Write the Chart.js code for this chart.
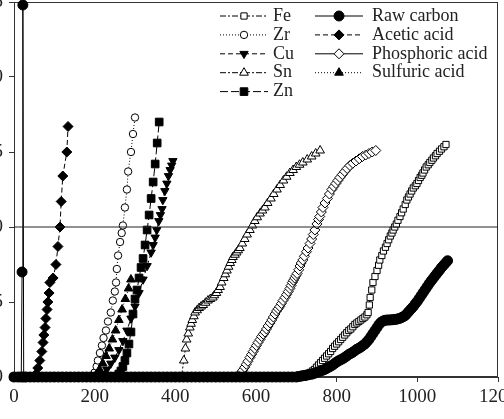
<!DOCTYPE html>
<html><head><meta charset="utf-8">
<script src="https://cdn.jsdelivr.net/npm/chart.js@4/dist/chart.umd.min.js"></script>
<style>
html,body{margin:0;padding:0;background:#fff;overflow:hidden;width:504px;height:419px;}
#wrap{position:absolute;left:-46px;top:-20px;width:580px;height:460px;}
</style></head><body>
<div id="wrap"><canvas id="c" width="580" height="460"></canvas></div>
<script>
const xTicks = [0,200,400,600,800,1000,1200];
const yTicks = [0,0.5,1.0,1.5,2.0,2.5];
const refLine = [[0,1],[1200,1]];

const fe = [[0,0],[10,0],[20,0],[30,0],[40,0],[50,0],[60,0],[70,0],[80,0],[90,0],[100,0],[110,0],[120,0],[130,0],[140,0],[150,0],[160,0],[170,0],[180,0],[190,0],[200,0],[210,0],[220,0],[230,0],[240,0],[250,0],[260,0],[270,0],[280,0],[290,0],[300,0],[310,0],[320,0],[330,0],[340,0],[350,0],[360,0],[370,0],[380,0],[390,0],[400,0],[410,0],[420,0],[430,0],[440,0],[450,0],[460,0],[470,0],[480,0],[490,0],[500,0],[510,0],[520,0],[530,0],[540,0],[550,0],[560,0],[570,0],[580,0],[590,0],[600,0],[610,0],[620,0],[630,0],[640,0],[650,0],[660,0],[670,0],[680,0],[690,0],[700,0],[710,0],
[720,0],[725,0.01],[730,0.02],[735,0.03],[740,0.04],[745,0.05],[750,0.065],[755,0.08],[760,0.095],[765,0.11],[770,0.125],[775,0.14],[780,0.155],[785,0.17],[790,0.19],[795,0.205],[800,0.22],[805,0.235],[810,0.25],[815,0.265],[820,0.28],[825,0.295],[830,0.31],[835,0.32],[840,0.335],[845,0.35],[850,0.36],[855,0.37],[860,0.38],[865,0.39],[870,0.40],[875,0.415],[878,0.43],[881,0.48],[883,0.53],[887,0.58],[890,0.63],[895,0.67],[900,0.71],[904,0.745],[907,0.78],[912,0.81],[916,0.84],[921,0.865],[925,0.89],[929,0.915],[933,0.94],[937,0.96],[940,0.98],[944,1.00],[948,1.02],[952,1.045],[957,1.07],[961,1.095],[965,1.12],[970,1.15],[974,1.18],[978,1.20],[982,1.22],[986,1.24],[990,1.26],[995,1.275],[999,1.29],[1003,1.31],[1007,1.33],[1011,1.345],[1014,1.36],[1018,1.38],[1022,1.40],[1027,1.415],[1031,1.43],[1036,1.445],[1040,1.46],[1045,1.475],[1049,1.49],[1055,1.505],[1060,1.52],[1066,1.535],[1071,1.55]];

const zr = [[0,0],[20,0],[40,0],[60,0],[80,0],[100,0],[120,0],[140,0],[160,0],[180,0],[190,0],
[195,0.01],[200,0.03],[205,0.07],[208,0.11],[213,0.16],[218,0.21],[222,0.26],[228,0.31],[233,0.37],[240,0.43],[245,0.51],[250,0.57],[253,0.63],[255,0.72],[258,0.81],[263,0.90],[267,0.96],[270,1.01],[275,1.13],[280,1.25],[283,1.37],[290,1.50],[295,1.62],[300,1.73]];

const cu = [[0,0],[20,0],[40,0],[60,0],[80,0],[100,0],[120,0],[140,0],[160,0],[180,0],[200,0],[210,0],
[220,0.02],[230,0.05],[240,0.09],[250,0.13],[260,0.18],[270,0.24],[280,0.31],[290,0.39],[300,0.47],[310,0.56],[320,0.65],[330,0.74],[340,0.83],[345,0.88],[350,0.93],[354,0.98],[359,1.04],[363,1.08],[367,1.12],[369,1.18],[374,1.24],[379,1.29],[383,1.34],[387,1.38],[391,1.41],[394,1.44]];

const sn = [[0,0],[20,0],[40,0],[60,0],[80,0],[100,0],[120,0],[140,0],[160,0],[180,0],[200,0],[220,0],[240,0],[260,0],[280,0],[300,0],[320,0],[340,0],[360,0],[380,0],[400,0],[410,0],[415,0],
[421,0.11],[425,0.19],[428,0.25],[432,0.29],[436,0.33],[439,0.355],[442,0.38],[446,0.405],[449,0.43],[454,0.445],[459,0.46],[464,0.47],[469,0.48],[475,0.495],[481,0.51],[487,0.52],[493,0.53],[497,0.545],[502,0.56],[506,0.58],[511,0.60],[515,0.63],[520,0.66],[524,0.685],[528,0.71],[532,0.735],[536,0.76],[540,0.78],[543,0.80],[548,0.815],[552,0.83],[556,0.845],[560,0.86],[566,0.89],[572,0.92],[578,0.95],[585,0.98],[591,1.01],[597,1.04],[603,1.065],[610,1.09],[616,1.11],[622,1.13],[629,1.16],[637,1.19],[644,1.22],[652,1.25],[660,1.28],[668,1.31],[676,1.335],[684,1.36],[692,1.38],[700,1.40],[708,1.415],[716,1.43],[727,1.45],[738,1.47],[748,1.49],[759,1.51]];

const zn = [[0,0],[20,0],[40,0],[60,0],[80,0],[100,0],[120,0],[140,0],[160,0],[180,0],[200,0],[220,0],[240,0],[250,0],[255,0],
[260,0.02],[265,0.04],[270,0.07],[275,0.11],[280,0.16],[285,0.22],[290,0.30],[295,0.42],[300,0.52],[305,0.58],[310,0.66],[315,0.73],[320,0.79],[325,0.88],[330,0.98],[335,1.08],[340,1.19],[345,1.30],[350,1.42],[355,1.56],[360,1.70]];

const rawCarbon = [[0,0],[10,0],[18,0],[20,0.70],[22,2.48],[24,0],[30,0],[40,0],[50,0],[60,0],[70,0],[80,0],[90,0],[100,0],[110,0],[120,0],[130,0],[140,0],[150,0],[160,0],[170,0],[180,0],[190,0],[200,0],[210,0],[220,0],[230,0],[240,0],[250,0],[260,0],[270,0],[280,0],[290,0],[300,0],[310,0],[320,0],[330,0],[340,0],[350,0],[360,0],[370,0],[380,0],[390,0],[400,0],[410,0],[420,0],[430,0],[440,0],[450,0],[460,0],[470,0],[480,0],[490,0],[500,0],[510,0],[520,0],[530,0],[540,0],[550,0],[560,0],[570,0],[580,0],[590,0],[600,0],[610,0],[620,0],[630,0],[640,0],[650,0],[660,0],[670,0],[680,0],[690,0],[700,0],
[705,0.003],[710,0.005],[715,0.008],[720,0.01],[725,0.013],[730,0.015],[735,0.018],[740,0.02],[745,0.025],[750,0.03],[755,0.035],[760,0.04],[765,0.045],[770,0.05],[775,0.057],[780,0.065],[785,0.072],[790,0.08],[795,0.09],[800,0.10],[805,0.108],[810,0.115],[815,0.122],[820,0.13],[825,0.14],[830,0.15],[835,0.157],[840,0.165],[845,0.175],[850,0.185],[855,0.192],[860,0.20],[865,0.21],[870,0.22],[875,0.235],[880,0.25],[885,0.27],[890,0.29],[895,0.31],[900,0.33],[905,0.35],[910,0.365],[915,0.373],[920,0.378],[925,0.38],[930,0.38],[935,0.381],[940,0.382],[945,0.384],[950,0.386],[955,0.39],[960,0.395],[965,0.402],[970,0.41],[975,0.425],[980,0.44],[985,0.455],[990,0.47],[995,0.488],[1000,0.505],[1005,0.525],[1010,0.545],[1015,0.565],[1020,0.585],[1025,0.605],[1030,0.625],[1035,0.643],[1040,0.66],[1045,0.678],[1050,0.695],[1055,0.712],[1060,0.73],[1065,0.745],[1070,0.76],[1075,0.775]];

const aceticAcid = [[0,0],[10,0],[20,0],[30,0],[40,0],[50,0],[55,0.02],[59,0.06],[64,0.11],[69,0.17],[72,0.23],[74,0.28],[77,0.33],[79,0.39],[82,0.45],[84,0.50],[87,0.56],[89,0.63],[97,0.66],[104,0.75],[109,0.87],[114,1.00],[117,1.17],[121,1.34],[131,1.50],[134,1.67]];

const phosphoricAcid = [[0,0],[20,0],[40,0],[60,0],[80,0],[100,0],[120,0],[140,0],[160,0],[180,0],[200,0],[220,0],[240,0],[260,0],[280,0],[300,0],[320,0],[340,0],[360,0],[380,0],[400,0],[420,0],[440,0],[460,0],[480,0],[500,0],[520,0],[540,0],[550,0],
[556,0.01],[562,0.025],[567,0.045],[572,0.065],[576,0.085],[580,0.105],[585,0.13],[589,0.15],[593,0.17],[597,0.19],[601,0.21],[605,0.23],[610,0.25],[614,0.27],[618,0.285],[622,0.30],[626,0.32],[630,0.34],[635,0.36],[639,0.38],[643,0.40],[647,0.42],[651,0.44],[655,0.455],[659,0.47],[663,0.49],[667,0.51],[672,0.53],[676,0.55],[680,0.57],[684,0.59],[687,0.61],[690,0.63],[693,0.645],[696,0.66],[699,0.675],[702,0.69],[706,0.715],[709,0.74],[712,0.76],[716,0.78],[720,0.805],[725,0.835],[729,0.86],[734,0.89],[738,0.92],[742,0.95],[746,0.98],[751,1.02],[755,1.05],[758,1.07],[762,1.10],[766,1.13],[771,1.16],[777,1.19],[782,1.22],[788,1.25],[793,1.27],[798,1.29],[803,1.31],[808,1.33],[814,1.35],[820,1.37],[826,1.39],[833,1.41],[840,1.425],[848,1.44],[856,1.455],[864,1.47],[872,1.48],[880,1.49],[888,1.50],[897,1.51]];

const sulfuricAcid = [[0,0],[20,0],[40,0],[60,0],[80,0],[100,0],[120,0],[140,0],[160,0],[180,0],[200,0],
[205,0.02],[212,0.05],[220,0.09],[228,0.14],[236,0.19],[244,0.25],[252,0.31],[260,0.38],[268,0.45],[276,0.52],[284,0.59],[290,0.65]];

const toPts = arr => arr.map(([x, y]) => ({x, y}));

function series(label, arr, style, radius, filled, dash, rotation) {
  return {
    label, data: toPts(arr), showLine: true, clip: false,
    borderColor: '#000', borderWidth: 1, borderDash: dash,
    pointStyle: style, pointRadius: radius, pointRotation: rotation || 0,
    pointBackgroundColor: filled ? '#000' : '#fff', pointBorderColor: '#000', pointBorderWidth: 1,
    pointHoverRadius: radius
  };
}

// lower index is painted on top
const datasets = [
  {label: 'ref', data: toPts(refLine), showLine: true, borderColor: '#222', borderWidth: 1, pointRadius: 0, clip: false},
  series('Raw carbon', rawCarbon, 'circle', 5, true, []),
  series('Acetic acid', aceticAcid, 'rectRot', 5, true, [5,3]),
  series('Zn', zn, 'rect', 5.4, true, [8,3]),
  series('Cu', cu, 'triangle', 4.8, true, [5,3], 180),
  series('Sulfuric acid', sulfuricAcid, 'triangle', 5, true, [1,2]),
  series('Zr', zr, 'circle', 3.7, false, [1,2]),
  series('Sn', sn, 'triangle', 5, false, [6,2,2,2]),
  series('Phosphoric acid', phosphoricAcid, 'rectRot', 5, false, []),
  series('Fe', fe, 'rect', 4.4, false, [6,2,2,2])
];

const framePlugin = {
  id: 'frame',
  beforeDatasetsDraw(chart) {
    const {ctx, chartArea: a} = chart;
    ctx.save();
    ctx.strokeStyle = '#333';
    ctx.lineWidth = 1;
    ctx.strokeRect(a.left + 0.5, a.top + 0.5, a.right - a.left - 1, a.bottom - a.top - 1);
    ctx.restore();
  }
};

function markerAt(ctx, ds, x, y) {
  ctx.fillStyle = ds.pointBackgroundColor;
  ctx.strokeStyle = ds.pointBorderColor;
  ctx.lineWidth = ds.pointBorderWidth;
  ctx.setLineDash([]);
  const opts = {pointStyle: ds.pointStyle, rotation: ds.pointRotation, radius: ds.pointRadius, borderWidth: ds.pointBorderWidth};
  if (Chart.helpers && Chart.helpers.drawPoint) {
    Chart.helpers.drawPoint(ctx, opts, x, y);
  } else {
    ctx.beginPath(); ctx.arc(x, y, ds.pointRadius, 0, Math.PI * 2); ctx.fill(); ctx.stroke();
  }
}

const legendPlugin = {
  id: 'colLegend',
  afterDraw(chart, args, o) {
    const {ctx, chartArea: a} = chart;
    ctx.save();
    ctx.font = o.font;
    ctx.textBaseline = 'middle';
    o.columns.forEach(col => {
      col.labels.forEach((lab, r) => {
        const ds = chart.data.datasets.find(d => d.label === lab);
        const y = a.top + o.top + r * o.rowH;
        const x0 = a.left + col.lineLeft;
        ctx.strokeStyle = '#000';
        ctx.lineWidth = 1;
        ctx.setLineDash(ds.borderDash || []);
        ctx.beginPath(); ctx.moveTo(x0, y); ctx.lineTo(x0 + o.lineW, y); ctx.stroke();
        markerAt(ctx, ds, x0 + o.lineW / 2, y);
        ctx.fillStyle = '#222';
        ctx.fillText(lab, a.left + col.textLeft, y);
      });
    });
    ctx.restore();
  }
};

const tickFont = {family: '"Liberation Serif", "Times New Roman", serif', size: 19};

new Chart(document.getElementById('c'), {
  type: 'scatter',
  data: {datasets},
  options: {
    responsive: false, animation: false, devicePixelRatio: 1,
    layout: {padding: {left: 0, top: 22, right: 36, bottom: 33}},
    elements: {line: {tension: 0}},
    plugins: {
      legend: {display: false}, tooltip: {enabled: false},
      colLegend: {
        font: '18px "Liberation Serif", "Times New Roman", serif',
        top: 14, rowH: 18.9, lineW: 48,
        columns: [
          {lineLeft: 206, textLeft: 259, labels: ['Fe', 'Zr', 'Cu', 'Sn', 'Zn']},
          {lineLeft: 301, textLeft: 358, labels: ['Raw carbon', 'Acetic acid', 'Phosphoric acid', 'Sulfuric acid']}
        ]
      }
    },
    scales: {
      x: {
        type: 'linear', min: 0, max: 1200,
        afterBuildTicks: s => { s.ticks = xTicks.map(v => ({value: v})); },
        ticks: {font: tickFont, color: '#222', padding: 4, maxRotation: 0, autoSkip: false, callback: v => String(v)},
        grid: {drawOnChartArea: false, tickLength: 5, color: '#333'},
        border: {display: true, color: '#333'},
        afterFit: s => { s.height = 30; s.paddingLeft = 0; s.paddingRight = 0; }
      },
      y: {
        type: 'linear', min: 0, max: 2.5,
        afterBuildTicks: s => { s.ticks = yTicks.map(v => ({value: v})); },
        ticks: {font: tickFont, color: '#222', padding: 6, callback: v => v === 0 ? '0' : Number(v).toFixed(1)},
        grid: {drawOnChartArea: false, tickLength: 5, color: '#333'},
        border: {display: true, color: '#333'},
        afterFit: s => { s.width = 60; s.paddingTop = 0; s.paddingBottom = 0; }
      }
    }
  },
  plugins: [framePlugin, legendPlugin]
});
</script>
</body></html>
